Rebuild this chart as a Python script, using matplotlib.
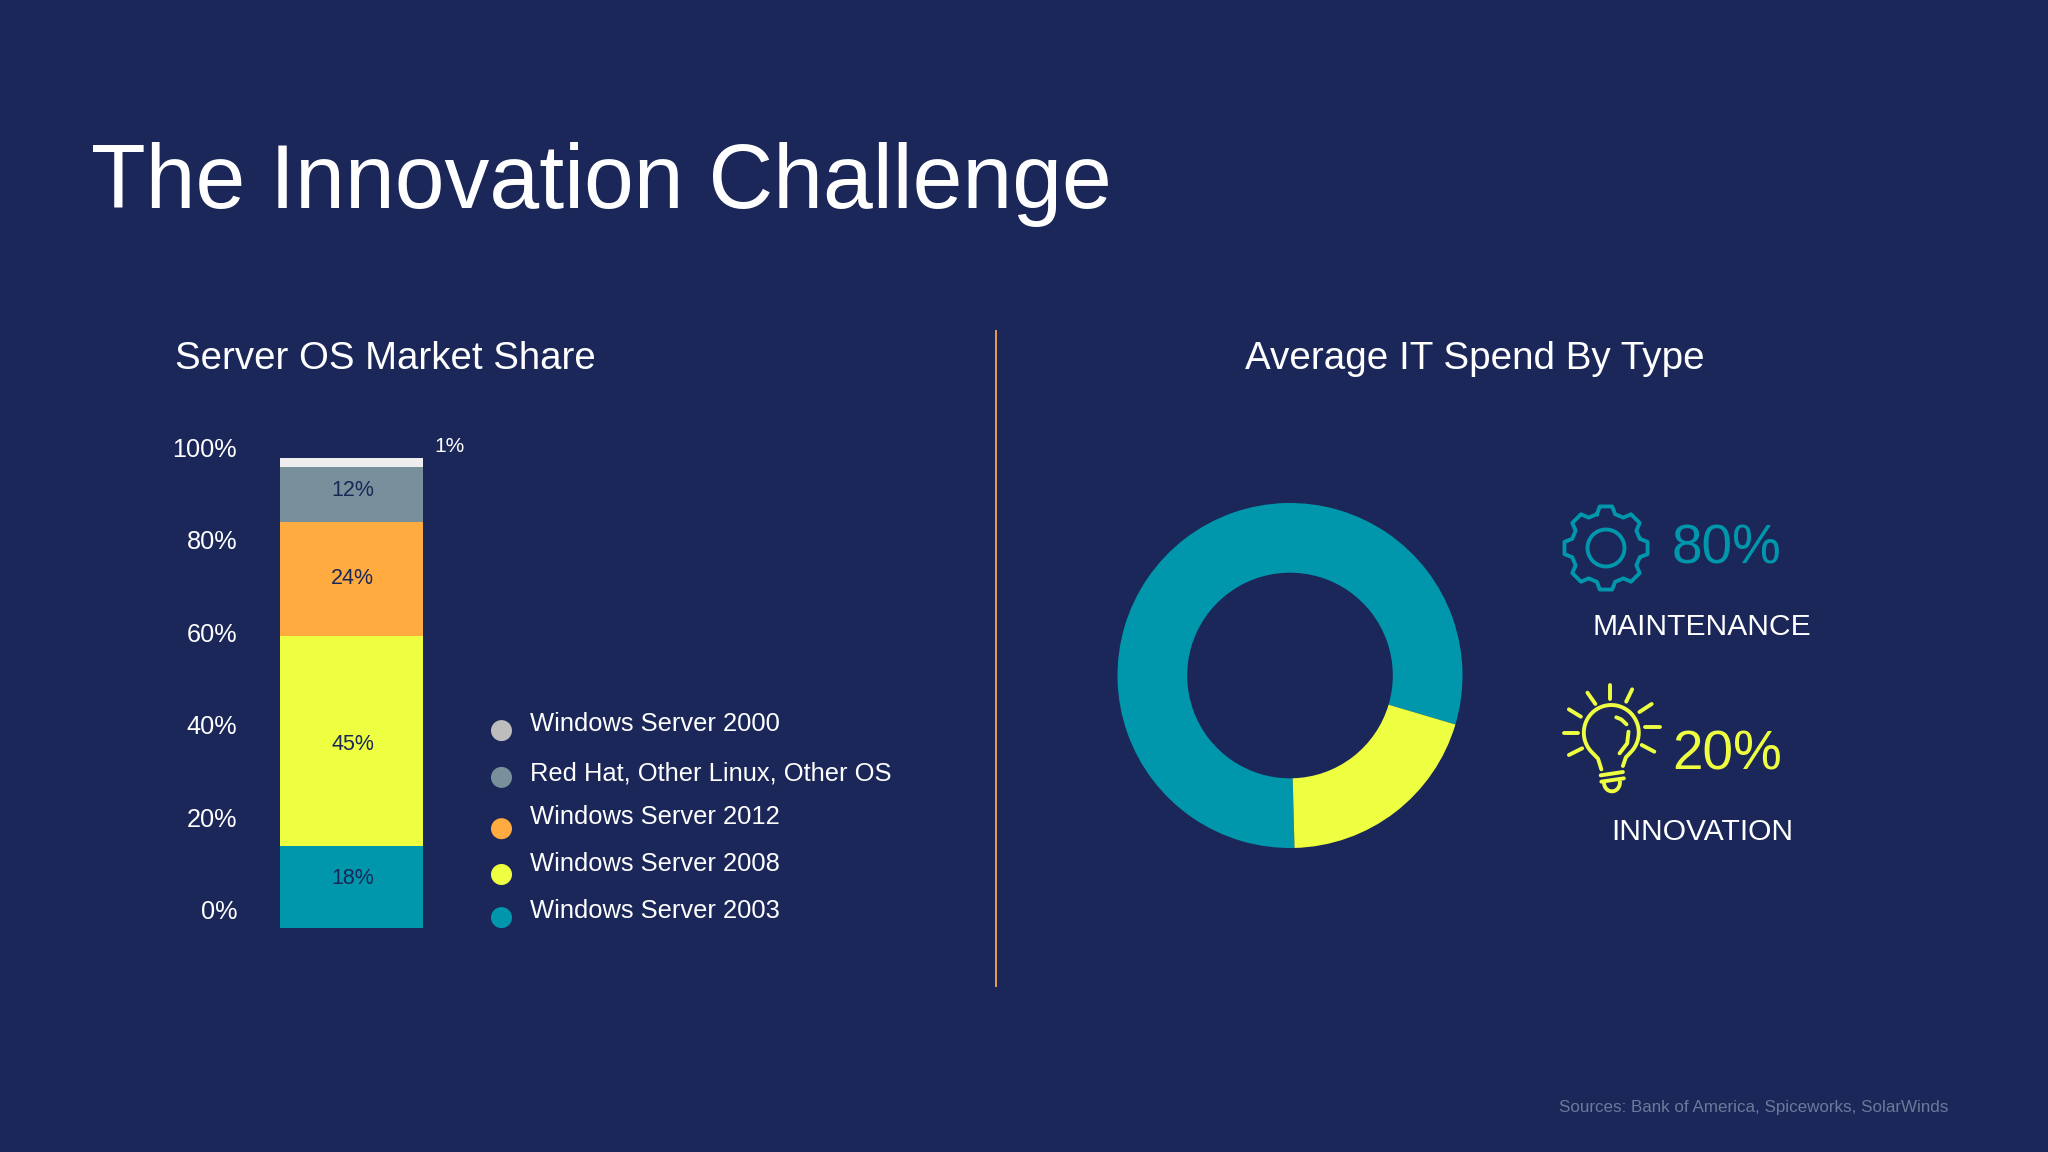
import numpy as np
import matplotlib
matplotlib.use('Agg')
import matplotlib.pyplot as plt
from matplotlib.patches import Circle

W, H = 2048, 1152
BG = '#1B2759'
TEAL = '#0097AC'
YELLOW = '#EEFF41'
ORANGE = '#FFAB40'
GREY = '#78909C'
NAVY = '#1A2757'

# stacked bar, bottom to top. heights as drawn, labels as printed
bar_names = ['Windows Server 2003', 'Windows Server 2008', 'Windows Server 2012',
             'Red Hat, Other Linux, Other OS', 'Windows Server 2000']
bar_heights = [17.5, 44.5, 24.2, 11.7, 2.1]
bar_labels = ['18%', '45%', '24%', '12%', '1%']
bar_colors = [TEAL, YELLOW, ORANGE, GREY, '#EEEEEE']
dot_colors = [TEAL, YELLOW, ORANGE, '#78909C', '#BDBDBD']
y_ticks = [0, 20, 40, 60, 80, 100]
y_tick_labels = ['0%', '20%', '40%', '60%', '80%', '100%']

# donut
spend_names = ['MAINTENANCE', 'INNOVATION']
spend_values = [80, 20]
spend_colors = [TEAL, YELLOW]

plt.rcParams['font.family'] = ['Liberation Sans', 'DejaVu Sans']

fig = plt.figure(figsize=(W / 100, H / 100), dpi=100, facecolor=BG)


def box(left, top, right, bottom):
    # pixel box (y down) to figure fractions
    return [left / W, 1 - bottom / H, (right - left) / W, (bottom - top) / H]


# pixel overlay for slide text and the icons
over = fig.add_axes([0, 0, 1, 1], zorder=5)
over.set_xlim(0, W)
over.set_ylim(H, 0)
over.axis('off')

over.text(91, 208, 'The Innovation Challenge', color='white', fontsize=64.5, va='baseline')
over.text(175, 369, 'Server OS Market Share', color='white', fontsize=27.6, va='baseline')
over.text(1475, 369, 'Average IT Spend By Type', color='white', fontsize=27.8, va='baseline', ha='center')
over.plot([995.5, 995.5], [331, 986], color='#EBA04A', lw=1.4)
over.text(1948, 1107.5, 'Sources: Bank of America, Spiceworks, SolarWinds', color='#6B7A99',
          fontsize=12.25, ha='right', va='center')

# bar
ax = fig.add_axes(box(280, 457.5, 423, 928))
ax.set_facecolor('none')
bottom = 0
for h, c, lab in zip(bar_heights, bar_colors, bar_labels):
    ax.bar(0, h, bottom=bottom, width=1, color=c, linewidth=0)
    bottom += h
ax.set_xlim(-0.5, 0.5)
ax.set_ylim(0, sum(bar_heights))
ax.axis('off')

# value labels sit a little off the segment centres in the original
label_y = [879, 745, 579, 490]
for lab, c, y in zip(bar_labels[:4], [NAVY] * 4, label_y):
    over.text(352.5, y, lab, color=c, fontsize=15.5, ha='center', va='center')
over.text(434, 446, bar_labels[4], color='white', fontsize=15, ha='left', va='center')

# the axis labels are offset from the bar
ax_y = fig.add_axes(box(237, 447.5, 300, 909.5))
ax_y.set_facecolor('none')
ax_y.set_ylim(0, 100)
ax_y.set_yticks(y_ticks)
ax_y.set_yticklabels(y_tick_labels, color='white', fontsize=18.2)
ax_y.tick_params(axis='y', length=0, pad=0)
ax_y.set_xticks([])
for s in ax_y.spines.values():
    s.set_visible(False)

# legend, uneven spacing like the slide
dot_y = [917.6, 874.5, 828.7, 777.4, 730.6]
text_y = [911, 864, 816.6, 774, 724]
for name, c, dy, ty in zip(bar_names, dot_colors, dot_y, text_y):
    over.add_patch(Circle((501.5, dy), 10.5, color=c, lw=0))
    over.text(529.5, ty, name, color='white', fontsize=18.4, va='center')

# donut
ax2 = fig.add_axes(box(1117, 503, 1463, 848))
ax2.pie(spend_values, colors=spend_colors, startangle=-88.5, counterclock=False,
        wedgeprops={'width': 0.404, 'linewidth': 0})
ax2.set_xlim(-1, 1)
ax2.set_ylim(-1, 1)

over.text(1727, 549, f'{spend_values[0]}%', color=TEAL, fontsize=39.5, ha='center', va='center')
over.text(1727, 756, f'{spend_values[1]}%', color=YELLOW, fontsize=39.5, ha='center', va='center')
over.text(1702, 627, spend_names[0], color='white', fontsize=21.6, ha='center', va='center')
over.text(1702, 832.5, spend_names[1], color='white', fontsize=21.6, ha='center', va='center')

# gear icon
gx, gy = 1606, 548
teeth = 8
pts = []
for i in range(teeth):
    a = 2 * np.pi * i / teeth - np.pi / 2
    step = 2 * np.pi / teeth
    for off, r in [(-0.27, 35), (-0.15, 42), (0.15, 42), (0.27, 35)]:
        pts.append((gx + r * np.cos(a + off * step * 1.25), gy + r * np.sin(a + off * step * 1.25)))
pts.append(pts[0])
pts = np.array(pts)
over.plot(pts[:, 0], pts[:, 1], color=TEAL, lw=2.8, solid_joinstyle='round')
over.add_patch(Circle((gx, gy), 18.5, fill=False, edgecolor=TEAL, lw=2.8))


# bulb icon, points taken from a zoomed crop
def bx(x):
    return 1555 + np.asarray(x, dtype=float) / 3.02


def by(y):
    return 680 + np.asarray(y, dtype=float) / 3.0


rays = [((165, 15), (165, 58)), ((98, 38), (122, 72)), ((233, 28), (215, 65)),
        ((42, 88), (78, 110)), ((292, 72), (255, 96)), ((26, 158), (68, 158)),
        ((272, 140), (316, 140)), ((42, 225), (82, 205)), ((262, 195), (300, 215))]
for a, b in rays:
    over.plot(bx([a[0], b[0]]), by([a[1], b[1]]), color=YELLOW, lw=2.8, solid_capstyle='round')

t = np.radians(np.linspace(222, -42, 60))
gl_x = np.concatenate([[140, 130], 170 + 83 * np.cos(t), [214, 205]])
gl_y = np.concatenate([[268, 236], 158 - 83 * np.sin(t), [232, 258]])
over.plot(bx(gl_x), by(gl_y), color=YELLOW, lw=2.8, solid_capstyle='round', solid_joinstyle='round')
for seg in [((138, 286), (205, 276)), ((140, 305), (208, 295)),
            ((185, 112), (200, 118), (216, 133)), ((222, 155), (218, 190), (195, 220))]:
    seg = np.array(seg)
    over.plot(bx(seg[:, 0]), by(seg[:, 1]), color=YELLOW, lw=2.8, solid_capstyle='round')
t = np.radians(np.linspace(180, 360, 20))
over.plot(bx(172 + 24 * np.cos(t)), by(308 - 26 * np.sin(t)), color=YELLOW, lw=2.8)

fig.savefig('out.png', dpi=100, facecolor=BG)
